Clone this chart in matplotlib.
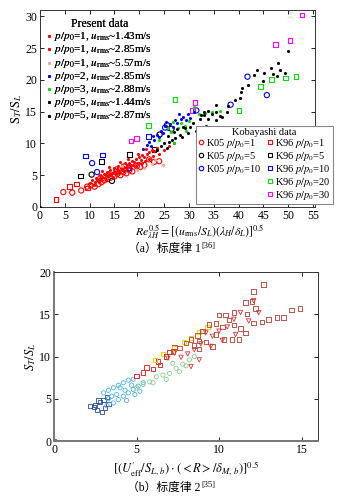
import matplotlib
matplotlib.use("Agg")
import matplotlib.pyplot as plt
from matplotlib.lines import Line2D

plt.rcParams["font.family"] = ["Liberation Serif", "Noto Sans CJK SC"]
plt.rcParams["mathtext.fontset"] = "stix"

# ---------------- (a) data: (Re^0.5, ST/SL) ----------------
present_r143 = [(10.0, 3.8), (10.5, 4.2), (11.0, 4.0), (11.2, 4.6), (11.5, 4.3), (12.0, 4.5),
                (12.0, 5.0), (12.5, 4.7), (12.8, 5.2), (13.0, 4.6), (13.3, 5.0), (13.5, 5.5),
                (14.0, 5.2), (14.2, 5.8), (14.5, 5.4), (15.0, 5.6), (15.0, 6.2), (15.5, 5.9),
                (15.8, 6.4), (16.0, 5.7), (16.3, 6.1), (16.5, 6.6), (17.0, 6.3), (17.2, 6.9),
                (17.5, 6.6), (18.0, 7.0), (18.3, 6.6), (18.5, 7.3), (19.0, 7.1), (19.3, 7.6),
                (19.5, 7.0), (20.0, 7.8), (20.3, 7.4), (20.6, 8.2), (21.0, 7.9), (21.5, 8.3),
                (22.0, 8.6), (22.5, 9.0), (23.0, 8.8), (23.5, 9.3)]
present_r285 = [(10.8, 3.5), (11.8, 3.9), (12.3, 4.2), (13.2, 4.3), (13.8, 4.8), (14.4, 5.0),
                (14.8, 4.7), (15.3, 5.3), (16.0, 5.3), (16.6, 5.8), (17.0, 5.6), (17.6, 6.1),
                (18.1, 6.3), (18.8, 6.6), (19.4, 6.4), (20.0, 6.9), (20.5, 7.0), (21.2, 7.3),
                (22.0, 7.6), (22.8, 8.0), (24.0, 8.4), (25.0, 9.0), (26.0, 9.6), (27.0, 10.0),
                (16.2, 7.1), (17.8, 7.6), (19.8, 8.4), (21.3, 9.2), (14.0, 6.3), (12.5, 5.6)]
present_r557 = [(16.5, 6.5), (19.5, 5.8), (21.0, 6.1), (22.6, 6.7), (24.8, 6.6), (23.2, 7.4)]
present_b285 = [(20.8, 9.2), (21.5, 9.8), (22.0, 10.3), (22.3, 9.6), (22.8, 11.1), (23.0, 10.6),
                (23.5, 11.4), (24.0, 11.0), (24.3, 12.0), (24.8, 11.6), (25.1, 12.7), (25.3, 13.4),
                (25.8, 12.2), (26.2, 13.0), (26.7, 12.6), (27.2, 13.7), (27.6, 13.2), (28.1, 14.6),
                (28.5, 13.8), (28.9, 14.1), (29.4, 13.7), (29.8, 14.6), (30.3, 14.0), (31.0, 14.9)]
present_g288 = [(24.0, 10.6), (25.7, 12.4), (26.4, 11.8), (27.0, 10.1), (27.8, 12.5), (28.5, 13.2),
                (29.2, 12.8), (30.0, 13.6), (31.1, 15.7), (32.0, 14.6), (33.2, 14.8), (34.7, 15.0),
                (36.3, 15.1), (29.5, 11.9), (26.8, 13.3)]
present_k144 = [(25.0, 10.0), (25.8, 11.2), (26.5, 10.6), (27.0, 11.8), (27.6, 12.2), (28.2, 11.4),
                (28.8, 12.6), (29.3, 12.4), (30.2, 12.6), (30.8, 13.2), (31.5, 12.0), (32.0, 12.4),
                (32.3, 13.8), (32.4, 14.4), (33.1, 15.0), (33.1, 14.4), (33.5, 12.8), (33.8, 13.9),
                (33.9, 15.1), (34.5, 12.2), (34.6, 14.7), (35.4, 13.7), (35.4, 16.1), (35.5, 15.0),
                (36.3, 14.3), (36.6, 14.2), (0.0, 0.0)]
present_k287 = [(23.5, 9.0), (24.3, 9.6), (25.5, 9.3), (26.0, 10.3), (27.2, 10.8), (28.6, 11.0),
                (29.8, 11.6), (37.6, 15.0), (37.8, 15.9), (39.2, 16.8), (40.3, 17.2), (40.5, 18.1),
                (40.7, 18.7), (41.9, 19.2), (43.1, 20.7), (43.7, 21.6), (44.9, 19.9), (45.2, 21.1),
                (46.5, 21.8), (47.0, 21.0), (47.8, 20.6), (48.0, 22.7), (48.4, 21.5), (49.4, 21.1),
                (49.9, 24.6)]

k05_p1 = [(4.7, 2.35), (6.5, 2.25), (8.3, 2.6), (9.5, 3.2), (10.2, 3.4), (11.0, 3.2), (11.8, 3.6),
          (12.4, 3.9), (13.0, 4.2), (13.6, 4.4), (14.2, 4.6), (15.0, 4.8), (15.6, 5.2), (16.2, 5.0),
          (16.8, 5.5), (17.4, 5.3), (18.0, 5.8), (18.6, 5.6), (19.5, 6.4), (20.2, 6.3), (21.0, 6.6),
          (22.0, 7.5), (23.0, 7.1), (17.0, 6.4), (15.4, 5.9), (13.8, 5.1), (12.2, 4.6), (24.0, 7.2)]
k05_p5 = [(10.4, 5.1), (14.5, 4.1), (24.1, 11.4), (25.6, 12.9), (26.5, 12.3)]
k05_p10 = [(10.5, 6.9), (11.5, 5.5), (18.0, 6.1), (25.2, 12.5), (31.5, 15.2), (38.4, 16.1),
           (41.8, 20.5), (45.7, 17.6)]
k96_p1 = [(3.2, 1.2), (5.9, 3.2), (7.3, 3.6), (9.6, 3.0)]
k96_p5 = [(8.1, 4.9), (12.4, 7.2), (18.0, 8.3), (23.0, 9.0)]
k96_p10 = [(9.2, 8.0), (12.6, 8.2), (21.8, 11.1)]
k96_p20 = [(21.9, 12.8), (27.2, 16.9), (40.1, 15.2), (44.4, 19.0), (46.6, 20.1), (49.5, 20.3),
           (51.6, 20.5)]
k96_p30 = [(18.3, 10.4), (19.4, 10.8), (30.7, 15.2), (31.2, 16.4), (47.5, 25.6), (50.4, 26.2),
           (52.8, 30.2)]

present_labels = ["$p/p_0$=1, $u_{\\rm rms}$~1.43m/s", "$p/p_0$=1, $u_{\\rm rms}$~2.85m/s",
                  "$p/p_0$=1, $u_{\\rm rms}$~5.57m/s", "$p/p_0$=2, $u_{\\rm rms}$~2.85m/s",
                  "$p/p_0$=3, $u_{\\rm rms}$~2.88m/s", "$p/p_0$=5, $u_{\\rm rms}$~1.44m/s",
                  "$p/p_0$=5, $u_{\\rm rms}$~2.87m/s"]
kob_labels = ["K05 $p/p_0$=1", "K05 $p/p_0$=5", "K05 $p/p_0$=10",
              "K96 $p/p_0$=1", "K96 $p/p_0$=5", "K96 $p/p_0$=10", "K96 $p/p_0$=20",
              "K96 $p/p_0$=30"]

# ---------------- (b) data: (scaling parameter, ST/SL) ----------------
b_darkred_sq = [(12.7, 18.5), (12.1, 17.7), (12.0, 16.5), (12.2, 15.7), (11.6, 16.4), (11.7, 15.0),
                (14.9, 15.7), (14.4, 15.5), (13.9, 14.6), (13.5, 14.6), (13.0, 14.4), (12.6, 14.1),
                (12.1, 14.0), (11.6, 12.8), (11.2, 12.0), (10.8, 12.0), (10.0, 14.9), (10.4, 14.9),
                (10.9, 15.2), (10.6, 14.3), (10.2, 13.5), (9.8, 13.9), (9.4, 13.8), (9.0, 13.0),
                (8.7, 12.5), (8.3, 12.0), (8.0, 11.6), (7.6, 11.0), (7.2, 10.6), (6.8, 10.0),
                (9.8, 12.6), (10.3, 12.0), (9.6, 11.2), (9.2, 11.7), (8.8, 10.9), (8.5, 11.3),
                (10.9, 13.7), (11.3, 13.3), (8.8, 11.8)]
b_red_tri = [(12.1, 16.6), (12.4, 15.2), (11.3, 15.2), (11.8, 14.2), (10.9, 14.4), (10.5, 13.5),
             (10.0, 13.0), (9.6, 12.4), (9.2, 12.8), (8.9, 11.5), (8.5, 10.8), (8.1, 10.3),
             (7.7, 9.9), (8.8, 9.6), (8.3, 8.8), (9.5, 11.2), (10.2, 11.9), (11.0, 12.6),
             (7.3, 10.4), (6.9, 9.8)]
b_yellow = [(8.3, 12.2), (9.3, 13.5), (7.3, 11.0), (6.6, 10.3), (6.1, 9.6), (7.9, 11.7), (8.8, 12.9)]
b_red_sq = [(5.0, 7.7), (5.4, 8.1), (5.6, 8.7), (6.0, 8.5), (6.3, 9.4), (6.4, 9.0), (6.8, 10.0),
            (7.3, 11.1), (7.0, 10.5), (0.0, 0.0)]
b_green = [(5.4, 6.7), (5.8, 7.0), (6.2, 7.6), (6.6, 7.8), (7.0, 8.0), (7.4, 8.6), (7.8, 9.1),
           (8.2, 9.6), (8.5, 10.0), (6.0, 6.9), (6.8, 7.3), (7.6, 8.2), (5.0, 6.3), (7.2, 9.2),
           (8.0, 8.9)]
b_lightblue = [(3.0, 5.7), (3.3, 6.0), (3.6, 6.3), (3.9, 6.6), (4.2, 6.9), (4.5, 7.2), (4.8, 7.3),
               (3.6, 4.5), (3.9, 4.9), (4.2, 5.3), (4.5, 5.7), (4.8, 6.1), (5.1, 6.5), (5.4, 6.9),
               (3.3, 5.0), (3.8, 5.5), (4.3, 6.0), (4.0, 6.3), (3.5, 5.3), (4.7, 6.6), (3.2, 4.2),
               (4.4, 4.8), (4.9, 5.5), (5.2, 5.9)]
b_darkblue = [(2.2, 4.1), (2.5, 4.3), (2.8, 4.6), (3.0, 4.9), (3.2, 5.2), (2.6, 3.7), (2.9, 3.4),
              (3.1, 3.9), (3.3, 4.4), (2.4, 4.0), (2.7, 4.8)]


def xy(pts):
    return [p[0] for p in pts], [p[1] for p in pts]


def style_axes(ax, lw_lb, col_lb):
    ax.tick_params(direction="in", top=True, right=True, labelsize=8.5, length=3, width=0.6,
                   pad=2)
    for side in ["top", "right"]:
        ax.spines[side].set_linewidth(0.7)
        ax.spines[side].set_color("#333333")
    for side in ["left", "bottom"]:
        ax.spines[side].set_linewidth(lw_lb)
        ax.spines[side].set_color(col_lb)


def dots(ax, pts, color, label):
    x, y = xy(pts)
    ax.scatter(x, y, s=5, c=color, marker="o", linewidths=0, label=label, zorder=3)


def hollow(ax, pts, color, marker, size=13, lw=0.8):
    x, y = xy(pts)
    ax.scatter(x, y, s=size, facecolors="none", edgecolors=color, marker=marker,
               linewidths=lw, zorder=2)


def panel_a(fig):
    ax = fig.add_axes([0.1133, 0.5852, 0.779, 0.3948])
    present = [present_r143, present_r285, present_r557, present_b285, present_g288,
               present_k144, present_k287]
    colors = ["#FF0000", "#FF0000", "#F4A6A6", "#0000FF", "#00E000", "#000000", "#000000"]

    kob = [(k05_p1, "#FF0000", "o"), (k05_p5, "#000000", "o"), (k05_p10, "#0000FF", "o"),
           (k96_p1, "#FF0000", "s"), (k96_p5, "#000000", "s"), (k96_p10, "#0000FF", "s"),
           (k96_p20, "#00E000", "s"), (k96_p30, "#FF00FF", "s")]
    for pts, c, m in kob:
        hollow(ax, pts, c, m, size=14 if m == "o" else 11)
    for pts, c, lab in zip(present, colors, present_labels):
        dots(ax, pts, c, lab)

    ax.set_xlim(0, 55.4)
    ax.set_ylim(0, 31)
    ax.set_xticks(range(0, 56, 5))
    ax.set_yticks(range(0, 31, 5))
    style_axes(ax, 0.7, "#333333")
    ax.set_ylabel("$\\mathrm{S}_T/\\mathrm{S}_L$", fontsize=9, labelpad=1)

    leg1 = ax.legend(loc="upper left", bbox_to_anchor=(-0.01, 1.005), frameon=False,
                     title="Present data", title_fontsize=8.5, fontsize=8, handlelength=0.5,
                     handletextpad=0.25, labelspacing=0.02, borderpad=0.3)
    ax.add_artist(leg1)

    # two blank slots so K05 fills column 1 and K96 fills column 2
    blank = Line2D([], [], linestyle="none")
    k_handles = []
    for pts, c, m in kob:
        k_handles.append(Line2D([], [], linestyle="none", marker=m, markersize=3.2,
                                markerfacecolor="none", markeredgecolor=c, markeredgewidth=0.8))
    k_handles = k_handles[:3] + [blank, blank] + k_handles[3:]
    k_labels = kob_labels[:3] + ["", ""] + kob_labels[3:]
    leg2 = fig.legend(k_handles, k_labels, loc="lower left", bbox_to_anchor=(0.556, 0.591),
                      ncol=2, title="Kobayashi data", title_fontsize=7.5, fontsize=7.5,
                      handlelength=0.5, handletextpad=0.25, labelspacing=0.0,
                      columnspacing=0.5, borderpad=0.2, borderaxespad=0.0, fancybox=False,
                      framealpha=1)
    leg2.get_frame().set_edgecolor("#888888")
    leg2.get_frame().set_linewidth(0.8)

    fig.text(200 / 353, 1 - 232 / 499,
             "$Re^{0.5}_{\\lambda H}=[(u_{\\rm rms}/S_L)(\\lambda_H/\\delta_L)]^{0.5}$",
             ha="center", va="center", fontsize=8.5)


def panel_b(fig):
    ax = fig.add_axes([0.153, 0.1162, 0.748, 0.3387])
    hollow(ax, b_darkblue, "#2A4C9E", "s", size=9, lw=0.6)
    hollow(ax, b_lightblue, "#4AB2E4", "o", size=9, lw=0.6)
    hollow(ax, b_green, "#8CCB8C", "o", size=9, lw=0.6)
    hollow(ax, b_red_sq, "#E83030", "s", size=9, lw=0.7)
    hollow(ax, b_yellow, "#F2D000", "s", size=9, lw=0.7)
    hollow(ax, b_darkred_sq, "#B03A2E", "s", size=10, lw=0.6)
    hollow(ax, b_red_tri, "#E03434", "v", size=10, lw=0.6)

    ax.set_xlim(0, 16)
    ax.set_ylim(0, 20)
    ax.set_xticks([0, 5, 10, 15])
    ax.set_yticks([0, 5, 10, 15, 20])
    style_axes(ax, 1.4, "#777777")
    ax.set_ylabel("$S_T/S_L$", fontsize=9, labelpad=1)
    ax.set_xlabel("$[(U^{\\prime}_{\\rm eff}/S_{L,\\,b})\\cdot(<R>/\\delta_{M,\\,b})]^{0.5}$",
                  fontsize=9, labelpad=3)


def main():
    fig = plt.figure(figsize=(3.53, 4.99), dpi=100)
    panel_a(fig)
    panel_b(fig)

    for yy, text, ref in [(1 - 249 / 499, "（a）标度律 1", "[36]"),
                          (1 - 488 / 499, "（b）标度律 2", "[35]")]:
        t = fig.text(164 / 353, yy, text, ha="center", va="center", fontsize=8.5,
                     family=["Liberation Serif", "Noto Sans CJK SC"])
        plt.annotate(ref, xy=(1.0, 1.0), xycoords=t, xytext=(0.5, 0.5),
                     textcoords="offset points", ha="left", va="top", fontsize=6,
                     annotation_clip=False)

    fig.savefig("out.png", dpi=100, facecolor="white")


if __name__ == "__main__":
    main()
